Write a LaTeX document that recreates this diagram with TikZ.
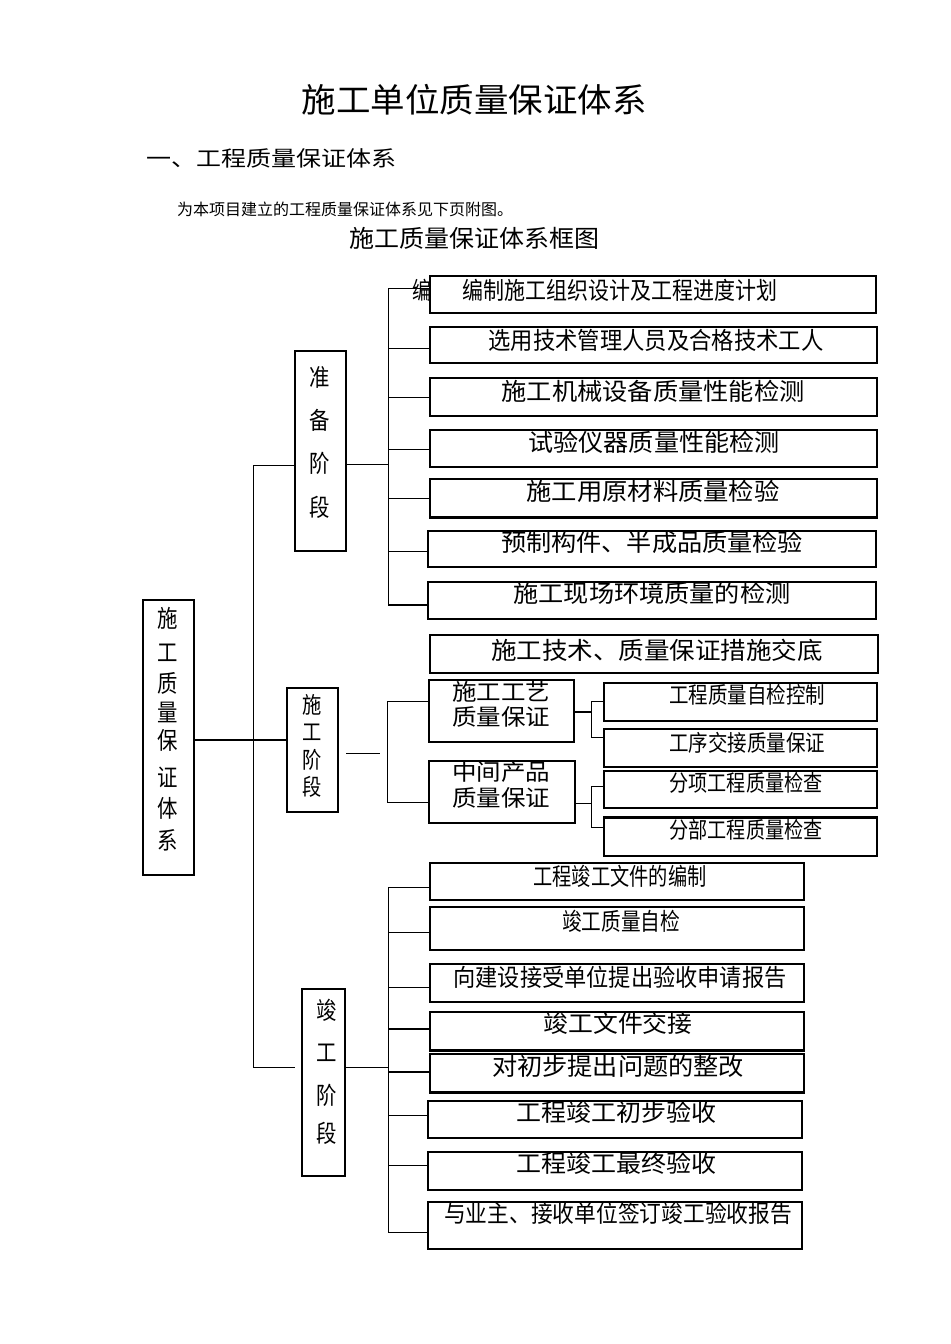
\documentclass[tikz,border=0pt]{standalone}
\usepackage{fontspec}
\setmainfont{Noto Sans CJK SC}
\usetikzlibrary{fit}
\newlength\pxu \setlength\pxu{0.75pt}
\newcommand\tx[2]{\resizebox{#1\pxu}{\height}{#2}}
\newcommand\vc[1]{\scalebox{0.85}[1]{#1}}
\newcommand\fsT{\fontsize{25pt}{27pt}\selectfont}
\newcommand\fsS{\fontsize{16pt}{18pt}\selectfont}
\newcommand\fsI{\fontsize{12pt}{14pt}\selectfont}
\newcommand\fsB{\fontsize{18pt}{20pt}\selectfont}
\newcommand\fsM{\fontsize{17pt}{19pt}\selectfont}
\tikzset{
  box/.style={draw, line width=0.9pt, inner sep=0pt},
  lbl/.style={inner sep=0pt, font=\fsB},
  lblm/.style={inner sep=0pt, font=\fsM},
  conn/.style={line width=0.75pt},
  thk/.style={line width=1.6pt},
}
\begin{document}
\begin{tikzpicture}[x=0.75pt, y=-0.75pt]
\path[fill=white] (0,0) rectangle (950,1344);
\useasboundingbox (0,0) rectangle (950,1344);

% headings
\node[inner sep=0pt, font=\fsT] (title) at (474,100) {\tx{345}{施工单位质量保证体系}};
\node[inner sep=0pt, font=\fsS] (sec) at (271,158) {\tx{250}{一、工程质量保证体系}};
\node[inner sep=0pt, font=\fsI] (intro) at (345,209) {\tx{336}{为本项目建立的工程质量保证体系见下页附图。}};
\node[inner sep=0pt, font=\fsB] (sub) at (474,238) {\tx{250}{施工质量保证体系框图}};

% main box
\node[box, fit={(143,600)(194,875)}] (M) {};
\foreach \c/\y [count=\i] in {施/618,工/653,质/683,量/712,保/740,证/777,体/808,系/840}
  \node[lbl] (m\i) at (168,\y) {\vc{\c}};

% stage boxes
\node[box, fit={(295,351)(346,551)}] (P) {};
\foreach \c/\y [count=\i] in {准/377,备/420,阶/463,段/507}
  \node[lbl] (pc\i) at (320,\y) {\vc{\c}};
\node[box, fit={(287,688)(338,812)}] (S) {};
\foreach \c/\y [count=\i] in {施/705,工/732,阶/760,段/787}
  \node[lblm] (sc\i) at (312,\y) {\vc{\c}};
\node[box, fit={(302,989)(345,1176)}] (C) {};
\foreach \c/\y [count=\i] in {竣/1010,工/1053,阶/1095,段/1133}
  \node[lbl] (cc\i) at (327,\y) {\vc{\c}};

% main connectors
\coordinate (mt) at (194,740);
\draw[line width=1.4pt] (mt) -- (mt -| S.west);
\coordinate (sp1) at (253,465);
\coordinate (sp2) at (253,1067);
\coordinate (cg) at (295,1067);
\draw[conn] (sp1) -- (sp2);
\draw[conn] (sp1) -- (sp1 -| P.west);
\draw[conn] (sp2) -- (cg);

% preparation items
\node[box, fit={(430,276)(876,313)}] (p1) {};
\node[box, fit={(430,327)(877,363)}] (p2) {};
\node[box, fit={(430,378)(877,416)}] (p3) {};
\node[box, fit={(430,430)(877,467)}] (p4) {};
\node[box, fit={(430,479)(877,517)}] (p5) {};
\node[box, fit={(428,531)(876,567)}] (p6) {};
\node[box, fit={(428,582)(876,619)}] (p7) {};
\draw[thk] (p5.south west) -- (p5.south east);

\node[lbl] (stray) at (422,290) {\tx{19}{编}};
\node[lbl] (pt1) at (620,290) {\tx{315}{编制施工组织设计及工程进度计划}};
\node[lbl] (pt2) at (656,340) {\tx{335}{选用技术管理人员及合格技术工人}};
\node[lbl] (pt3) at (653,391) {\tx{303}{施工机械设备质量性能检测}};
\node[lbl] (pt4) at (654,442) {\tx{251}{试验仪器质量性能检测}};
\node[lbl] (pt5) at (653,491) {\tx{253}{施工用原材料质量检验}};
\node[lbl] (pt6) at (652,542) {\tx{302}{预制构件、半成品质量检验}};
\node[lbl] (pt7) at (652,593) {\tx{277}{施工现场环境质量的检测}};

\coordinate (pj) at (388,464);
\draw[conn] (pj -| P.east) -- (pj);
\coordinate (pa) at (388,289);
\coordinate (pb) at (388,605);
\draw[conn] (pa) -- (pb);
\coordinate (pb1) at (388,289);
\coordinate (pb2) at (388,348);
\coordinate (pb3) at (388,397);
\coordinate (pb4) at (388,449);
\coordinate (pb5) at (388,498);
\coordinate (pb6) at (388,551);
\coordinate (pb7) at (388,605);
\foreach \i in {1,...,6} \draw[conn] (pb\i) -- (pb\i -| p\i.west);
\draw[thk] (pb7) -- (pb7 -| p7.west);

% construction stage
\node[box, fit={(430,635)(878,673)}] (K) {};
\node[lbl] (kt) at (657,650) {\tx{332}{施工技术、质量保证措施交底}};

\node[box, fit={(429,680)(574,742)}] (W1) {};
\node[box, fit={(429,761)(575,823)}] (W2) {};
\node[lblm] (w1a) at (501,692) {\tx{98}{施工工艺}};
\node[lblm] (w1b) at (501,717) {\tx{98}{质量保证}};
\node[lblm] (w2a) at (501,772) {\tx{98}{中间产品}};
\node[lblm] (w2b) at (501,798) {\tx{98}{质量保证}};

\coordinate (sd1) at (346,753);
\coordinate (sd2) at (380,753);
\draw[conn] (sd1) -- (sd2);
\coordinate (sa) at (387,701);
\coordinate (sb) at (387,802);
\draw[conn] (sa) -- (sb);
\draw[conn] (sa) -- (sa -| W1.west);
\draw[conn] (sb) -- (sb -| W2.west);

\node[box, fit={(604,683)(877,721)}] (R1) {};
\node[box, fit={(604,729)(877,767)}] (R2) {};
\node[box, fit={(604,771)(877,808)}] (R3) {};
\node[box, fit={(604,818)(877,856)}] (R4) {};
\draw[thk] (R4.north west) -- (R4.north east);
\node[lblm] (r1) at (747,695) {\tx{156}{工程质量自检控制}};
\node[lblm] (r2) at (747,743) {\tx{156}{工序交接质量保证}};
\node[lblm] (r3) at (746,783) {\tx{153}{分项工程质量检查}};
\node[lblm] (r4) at (746,830) {\tx{153}{分部工程质量检查}};

\coordinate (wa) at (591,712);
\draw[line width=1.8pt] (wa -| W1.east) -- (wa);
\coordinate (wa1) at (591,701);
\coordinate (wa2) at (591,737);
\draw[conn] (wa1) -- (wa2);
\draw[conn] (wa1) -- (wa1 -| R1.west);
\draw[conn] (wa2) -- (wa2 -| R2.west);
\coordinate (wb) at (591,803);
\draw[conn] (wb -| W2.east) -- (wb);
\coordinate (wb1) at (591,786);
\coordinate (wb2) at (591,827);
\draw[conn] (wb1) -- (wb2);
\draw[conn] (wb1) -- (wb1 -| R3.west);
\draw[conn] (wb2) -- (wb2 -| R4.west);

% completion items
\node[box, fit={(430,863)(804,900)}] (c1) {};
\node[box, fit={(430,907)(804,950)}] (c2) {};
\node[box, fit={(430,964)(804,1002)}] (c3) {};
\node[box, fit={(430,1012)(804,1050)}] (c4) {};
\node[box, fit={(430,1054)(804,1092)}] (c5) {};
\node[box, fit={(428,1101)(802,1138)}] (c6) {};
\node[box, fit={(428,1152)(802,1190)}] (c7) {};
\node[box, fit={(428,1202)(802,1249)}] (c8) {};
\draw[thk] (c4.south west) -- (c4.south east);
\draw[thk] (c5.south west) -- (c5.south east);

\node[lbl] (ct1) at (620,876) {\tx{173}{工程竣工文件的编制}};
\node[lbl] (ct2) at (621,921) {\tx{118}{竣工质量自检}};
\node[lbl] (ct3) at (620,977) {\tx{333}{向建设接受单位提出验收申请报告}};
\node[lbl] (ct4) at (618,1023) {\tx{149}{竣工文件交接}};
\node[lbl] (ct5) at (618,1066) {\tx{252}{对初步提出问题的整改}};
\node[lbl] (ct6) at (616,1112) {\tx{200}{工程竣工初步验收}};
\node[lbl] (ct7) at (616,1163) {\tx{200}{工程竣工最终验收}};
\node[lbl] (ct8) at (618,1213) {\tx{348}{与业主、接收单位签订竣工验收报告}};

\coordinate (cj) at (388,1067);
\draw[conn] (cj -| C.east) -- (cj);
\coordinate (cb1) at (388,887);
\coordinate (cb2) at (388,932);
\coordinate (cb3) at (388,987);
\coordinate (cb4) at (388,1029);
\coordinate (cb5) at (388,1072);
\coordinate (cb6) at (388,1115);
\coordinate (cb7) at (388,1165);
\coordinate (cb8) at (388,1232);
\draw[conn] (cb1) -- (cb8);
\foreach \i in {1,2,3,6,7,8} \draw[conn] (cb\i) -- (cb\i -| c\i.west);
\foreach \i in {4,5} \draw[thk] (cb\i) -- (cb\i -| c\i.west);
\end{tikzpicture}
\end{document}
